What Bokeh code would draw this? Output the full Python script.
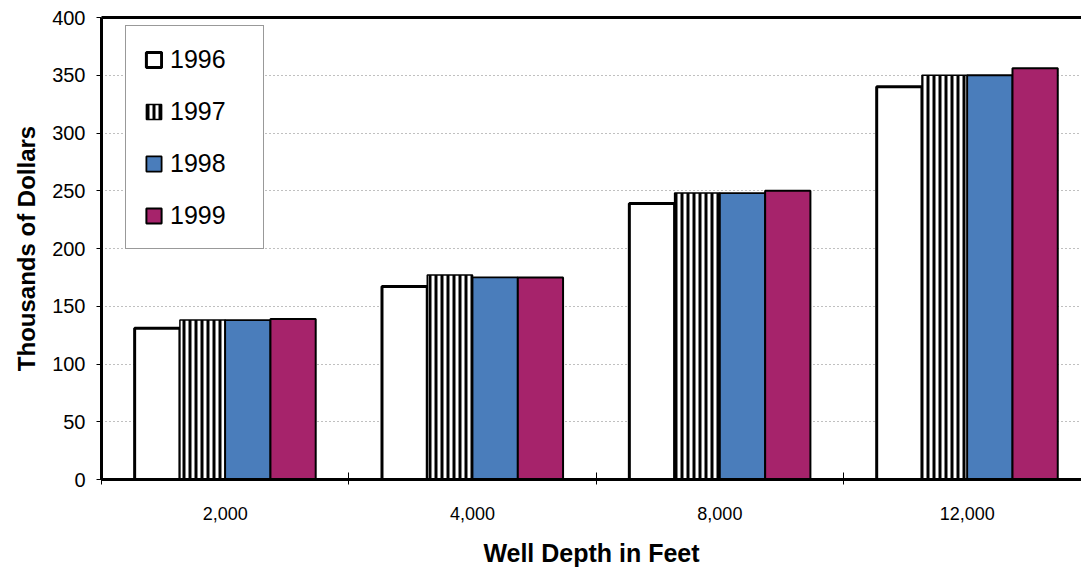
from bokeh.plotting import figure
from bokeh.models import Range1d, FixedTicker, Legend, LegendItem, LinearAxis
from bokeh.embed import file_html
from bokeh.resources import INLINE

depths = ["2,000", "4,000", "8,000", "12,000"]
years = ["1996", "1997", "1998", "1999"]
v1996 = [131, 167, 239, 340]
v1997 = [138, 177, 248, 350]
v1998 = [138, 175, 248, 350]
v1999 = [139, 175, 250, 356]
series = [v1996, v1997, v1998, v1999]

FONT = "Liberation Sans"
BLUE = "#4A7DBB"
MAGENTA = "#A6236B"

p = figure(width=1081, height=569, x_range=Range1d(0, 3.962), y_range=Range1d(0, 400),
           output_backend="svg", toolbar_location=None,
           min_border_left=101, min_border_top=17, min_border_bottom=90, min_border_right=0)
p.outline_line_color = None
p.background_fill_color = "white"
p.border_fill_color = "white"

styles = [
    dict(fill_color="white", line_color="black", line_width=3),
    dict(fill_color="white", line_color="black", line_width=1.5, hatch_pattern="vertical_line",
         hatch_color="black", hatch_scale=6, hatch_weight=3),
    dict(fill_color=BLUE, line_color="black", line_width=1.8),
    dict(fill_color=MAGENTA, line_color="black", line_width=2),
]

w = 0.183
centers = [i + 0.5 for i in range(len(depths))]
legend_items = []
for k, (vals, st) in enumerate(zip(series, styles)):
    xs = [c + (k - 1.5) * w for c in centers]
    r = p.vbar(x=xs, top=vals, bottom=0, width=w, **st)
    legend_items.append(LegendItem(label=years[k], renderers=[r]))

legend = Legend(items=legend_items, location=(24, 230))
legend.glyph_width = 19
legend.glyph_height = 19
legend.label_standoff = 7
legend.label_width = 75
legend.label_height = 30
legend.spacing = 22
legend.padding = 18
legend.label_text_font = FONT
legend.label_text_font_size = "25px"
legend.label_text_color = "black"
legend.border_line_color = "#333333"
legend.border_line_width = 1
legend.background_fill_color = "white"
legend.background_fill_alpha = 1
p.add_layout(legend)

# y axis
ya = p.yaxis[0]
ya.ticker = FixedTicker(ticks=list(range(0, 401, 50)))
ya.axis_line_width = 3
ya.axis_line_color = "black"
ya.major_tick_out = 5
ya.major_tick_in = 0
ya.minor_tick_line_color = None
ya.major_label_text_font = FONT
ya.major_label_text_font_size = "20px"
ya.major_label_text_color = "black"
ya.major_label_standoff = 11
ya.axis_label = "Thousands of Dollars"
ya.axis_label_text_font = FONT
ya.axis_label_text_font_style = "bold"
ya.axis_label_text_font_size = "24px"
ya.axis_label_text_color = "black"
ya.axis_label_standoff = 9

# x axis
xa = p.xaxis[0]
xa.ticker = FixedTicker(ticks=centers, minor_ticks=list(range(len(depths) + 1)))
xa.major_label_overrides = {c: d for c, d in zip(centers, depths)}
xa.axis_line_width = 3
xa.axis_line_color = "black"
xa.major_tick_line_color = None
xa.major_tick_out = 0
xa.major_tick_in = 0
xa.minor_tick_line_color = "black"
xa.minor_tick_line_width = 1
xa.minor_tick_in = 7
xa.minor_tick_out = 5
xa.major_label_text_font = FONT
xa.major_label_text_font_size = "18px"
xa.major_label_text_color = "black"
xa.major_label_standoff = 22
xa.axis_label = "Well Depth in Feet"
xa.axis_label_text_font = FONT
xa.axis_label_text_font_style = "bold"
xa.axis_label_text_font_size = "25px"
xa.axis_label_text_color = "black"
xa.axis_label_standoff = 16

# top border
top = LinearAxis(ticker=FixedTicker(ticks=[]), axis_line_width=3, axis_line_color="black",
                 major_tick_line_color=None, minor_tick_line_color=None,
                 major_label_text_font_size="0px")
p.add_layout(top, "above")

p.xgrid.grid_line_color = None
p.ygrid.ticker = FixedTicker(ticks=list(range(50, 400, 50)))
p.ygrid.grid_line_color = "#808080"
p.ygrid.grid_line_dash = "1 3"
p.ygrid.grid_line_width = 1

open("out.html", "w").write(file_html(p, INLINE))
